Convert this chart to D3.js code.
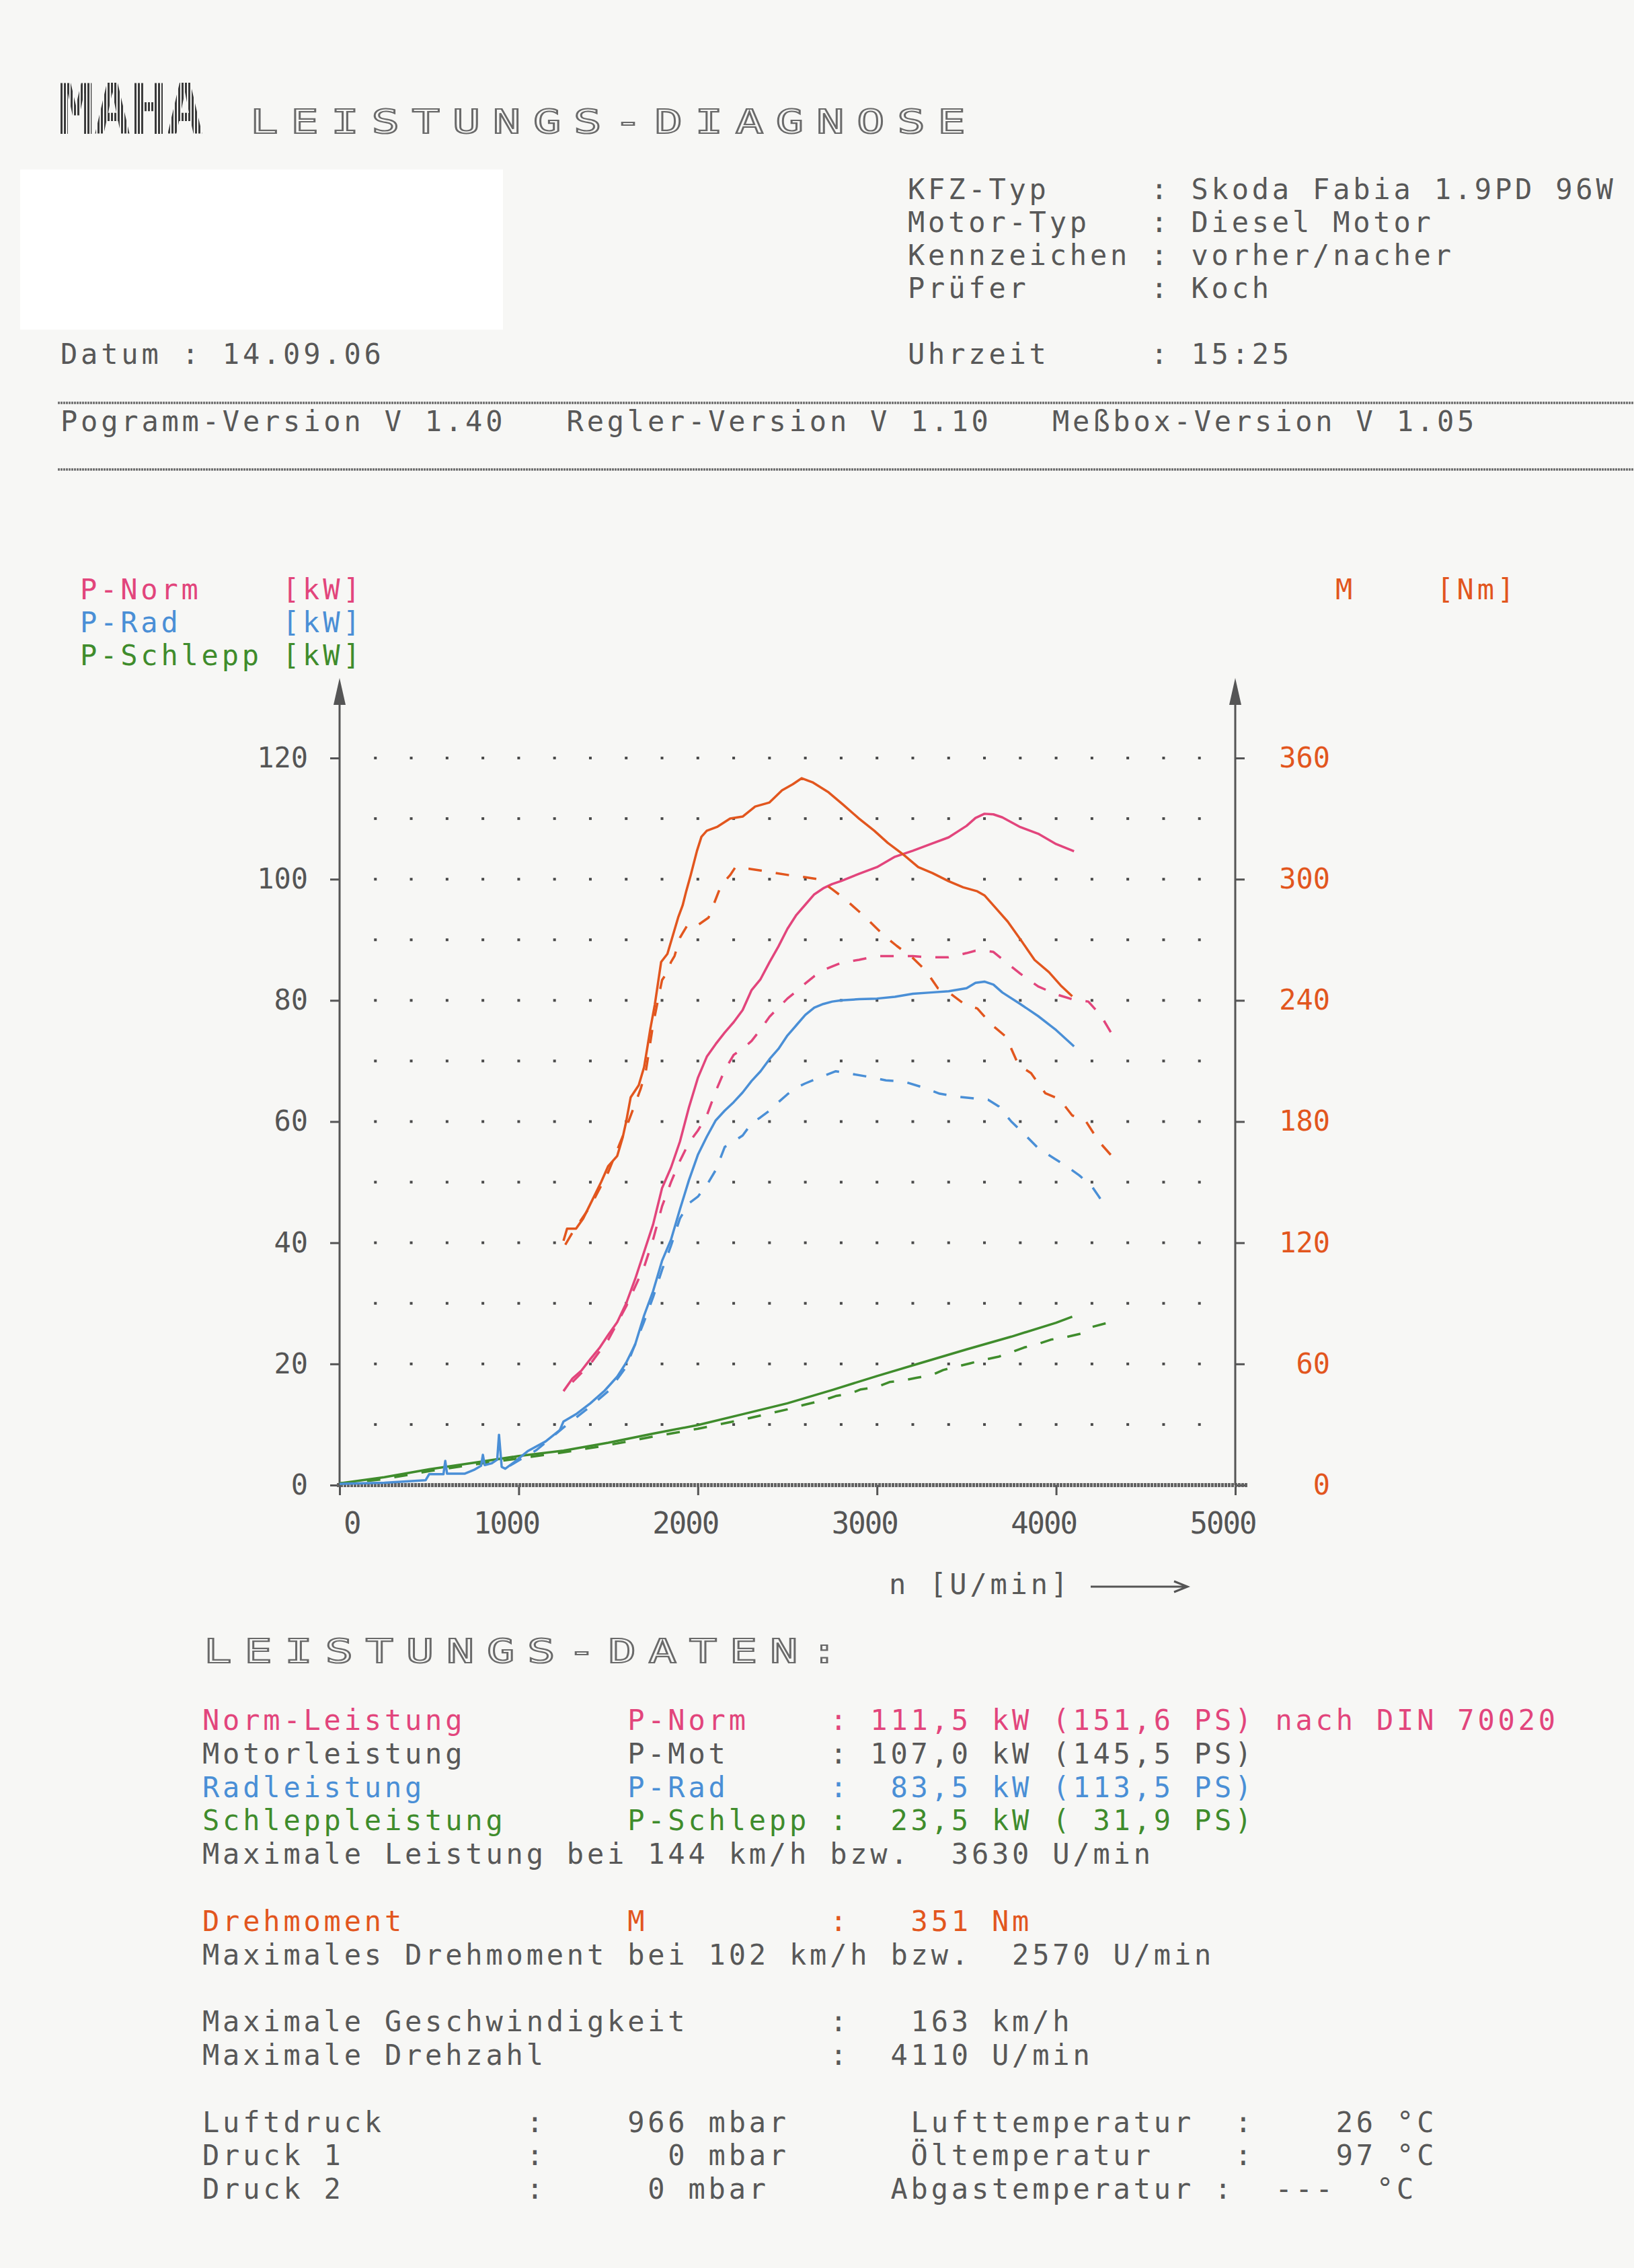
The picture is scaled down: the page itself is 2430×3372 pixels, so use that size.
<html>
<head>
<title>Leistungs-Diagnose</title>
<meta charset="utf-8">
<script src="https://d3js.org/d3.v7.min.js"></script>
<style>
body { margin: 0; background: #f7f7f5; }
svg { display: block; }
text { font-family: "DejaVu Sans Mono", monospace; white-space: pre; }
</style>
</head>
<body>
<script>
// ---- values (rpm / kW, torque in Nm) ----
// solid = nachher, dashed = vorher
var normRpm = [1250,1300,1350,1400,1450,1500,1550,1600,1650,1700,1750,1800,1850,1900,1950,2000,2050,2100,2150,2200,2250,2300,2350,2400,2450,2500,2550,2600,2650,2700,2750,2800,2900,3000,3100,3200,3300,3400,3500,3550,3600,3650,3700,3800,3900,4000,4100];
var normKw  = [15.5,17.6,18.9,20.8,22.6,24.8,26.9,30,34,38.5,43,49,52.4,56.7,62.3,67.2,70.7,72.8,74.7,76.4,78.4,81.7,83.5,86.3,88.9,91.8,94.1,95.8,97.5,98.5,99.2,99.7,100.9,102,103.7,104.7,105.8,106.9,108.8,110.1,110.8,110.7,110.2,108.6,107.5,105.8,104.6];

var normOldRpm = [1300,1400,1500,1600,1700,1750,1800,1850,1900,1950,2000,2050,2100,2150,2200,2250,2300,2350,2400,2450,2500,2550,2600,2650,2700,2750,2800,2900,3000,3100,3200,3300,3400,3500,3550,3600,3650,3700,3800,3900,4000,4100,4180,4250,4320];
var normOldKw  = [17,20,24,29.5,36,40.5,46,50,53.5,56.5,58.5,61,65,68.5,71,72,73.3,75.2,77.3,78.8,80.3,81.5,82.8,84,85,85.6,86.2,86.7,87.3,87.3,87.3,87.1,87.1,87.8,88.2,88.2,88,86.8,84.4,82.3,81,80.1,79.8,77.5,74];

var radRpm = [0,250,480,500,580,590,600,700,750,790,800,810,850,880,890,905,925,980,1050,1150,1230,1250,1320,1400,1480,1550,1600,1650,1700,1750,1800,1850,1900,1950,2000,2050,2100,2150,2200,2250,2300,2350,2400,2450,2500,2550,2600,2650,2700,2750,2800,2900,3000,3100,3200,3300,3400,3500,3550,3600,3650,3700,3800,3900,4000,4100];
var radKw  = [0.2,0.4,0.8,1.8,1.8,4,1.9,1.9,2.5,3.2,5,3.3,3.6,4.2,8.3,3,2.7,3.9,5.6,7.2,9.1,10.5,11.7,13.5,15.6,17.9,20.2,23.2,28,32,37,40.5,45.5,50.3,54.5,57.5,60.2,61.8,63.2,64.8,66.7,68.3,70.3,72,74.2,75.9,77.6,78.8,79.4,79.8,80,80.2,80.3,80.6,81.1,81.3,81.5,82,82.9,83.1,82.6,81.3,79.4,77.4,75.1,72.4];

var radOldRpm = [950,1100,1250,1400,1500,1600,1700,1750,1800,1850,1900,1950,2000,2050,2100,2150,2200,2250,2300,2350,2400,2450,2500,2550,2600,2700,2770,2850,2950,3050,3150,3250,3350,3450,3550,3620,3680,3750,3830,3900,3990,4050,4130,4200,4290];
var radOldKw  = [3.2,5.8,9.5,13,15.5,19.5,27,31,35.5,39.5,44,46.5,47.6,49.5,52,55.8,56.7,57.7,59.7,60.7,61.8,63.2,64.5,65.6,66.3,67.5,68.3,67.9,67.4,66.8,66.6,65.7,64.6,64.1,63.8,63.6,62.5,60,57.7,55.6,53.9,52.8,51.1,49.3,45.4];

var schleppRpm = [0,250,500,750,1000,1250,1500,1750,2000,2250,2500,2750,3000,3250,3500,3750,4000,4090];
var schleppKw  = [0.3,1.3,2.6,3.7,4.8,5.7,7,8.5,9.9,11.7,13.5,15.7,18,20.2,22.4,24.5,26.8,27.8];

var schleppOldRpm = [0,250,500,750,1000,1250,1500,1750,2000,2250,2500,2600,2700,2770,2850,2910,3000,3070,3150,3220,3300,3370,3450,3520,3600,3680,3740,3820,3900,3970,4050,4140,4200,4290];
var schleppOldKw  = [0.2,1,2.3,3.4,4.4,5.4,6.6,8,9.3,10.8,12.5,13.3,14,14.7,15.1,15.8,16.2,17,17.3,17.7,18.1,19,19.6,20.1,20.7,21.2,21.8,22.7,23.3,24,24.4,25,26.1,26.8];

var mRpm = [1250,1270,1320,1360,1410,1460,1500,1550,1580,1600,1625,1670,1700,1715,1735,1760,1780,1795,1830,1860,1890,1915,1935,1960,1995,2020,2050,2110,2180,2250,2320,2400,2470,2530,2580,2640,2730,2810,2900,2985,3060,3150,3230,3310,3400,3480,3560,3600,3660,3730,3810,3880,3960,4030,4090];
var mNm  = [121,127,127,132,141,150,158,163,172,180,192,198,207,215,226,238,250,259,263,272,281,287,294,302,314,321,324,326,330,331,336,338,344,347,350,348,343,337,330,324,318,312,306,303,299,296,294,292,286,279,269,260,254,247,242];

var mOldRpm = [1260,1300,1400,1500,1600,1680,1710,1750,1800,1830,1850,1870,1900,1940,1980,2060,2130,2180,2210,2300,2370,2440,2510,2600,2670,2750,2810,2900,2960,3040,3110,3200,3270,3340,3400,3490,3560,3640,3720,3790,3860,3940,4020,4090,4160,4240,4310];
var mOldNm  = [119,125,138,155,177,196,205,228,250,254,259,262,271,277,276,281,297,302,306,305,304,303,302,301,300,295,291,284,279,272,267,261,255,246,244,238,236,228,222,208,204,194,191,183,181,170,163];

// axis tick labels
var kwTicks  = [0, 20, 40, 60, 80, 100, 120];
var nmTicks  = [0, 60, 120, 180, 240, 300, 360];
var rpmTicks = [0, 1000, 2000, 3000, 4000, 5000];

// texts of the printout
var headerRight = ["KFZ-Typ     : Skoda Fabia 1.9PD 96W",
                   "Motor-Typ   : Diesel Motor",
                   "Kennzeichen : vorher/nacher",
                   "Prüfer      : Koch"];
var versionLine = "Pogramm-Version V 1.40   Regler-Version V 1.10   Meßbox-Version V 1.05";
var legendLeft  = ["P-Norm    [kW]", "P-Rad     [kW]", "P-Schlepp [kW]"];
var legendRight = "M    [Nm]";
var reportLines = [
  "Norm-Leistung        P-Norm    : 111,5 kW (151,6 PS) nach DIN 70020",
  "Motorleistung        P-Mot     : 107,0 kW (145,5 PS)",
  "Radleistung          P-Rad     :  83,5 kW (113,5 PS)",
  "Schleppleistung      P-Schlepp :  23,5 kW ( 31,9 PS)",
  "Maximale Leistung bei 144 km/h bzw.  3630 U/min",
  "",
  "Drehmoment           M         :   351 Nm",
  "Maximales Drehmoment bei 102 km/h bzw.  2570 U/min",
  "",
  "Maximale Geschwindigkeit       :   163 km/h",
  "Maximale Drehzahl              :  4110 U/min",
  "",
  "Luftdruck       :    966 mbar      Lufttemperatur  :    26 °C",
  "Druck 1         :      0 mbar      Öltemperatur    :    97 °C",
  "Druck 2         :     0 mbar      Abgastemperatur :  ---  °C"];
var reportColor = ["norm","grey","rad","schlepp","grey","","m","grey","","grey","grey","","grey","grey","grey"];

// ---- styles ----
var col = { norm: "#e2457c", rad: "#4a8fd6", schlepp: "#3f8c2c", m: "#e2561e", grey: "#585858" };
var fontSize = 42, advance = 30.1;
var spacing = advance - 0.602 * fontSize;

var svg = d3.select("body").append("svg")
    .attr("width", 2430)
    .attr("height", 3372);

svg.append("rect").attr("width", 2430).attr("height", 3372).attr("fill", "#f7f7f5");

var defs = svg.append("defs");
var pat = defs.append("pattern").attr("id", "stripes")
    .attr("width", 5).attr("height", 5).attr("patternUnits", "userSpaceOnUse");
pat.append("rect").attr("width", 3).attr("height", 5).attr("fill", "#3a3a3a");

function line(x0, y0, s, color) {
  return svg.append("text")
      .attr("x", x0)
      .attr("y", y0)
      .attr("xml:space", "preserve")
      .attr("font-size", fontSize)
      .style("letter-spacing", spacing + "px")
      .attr("fill", color)
      .text(s);
}

// wide hollow heading letters
function heading(x0, y0, s) {
  svg.append("text")
      .attr("transform", "translate(" + x0 + "," + y0 + ") scale(1.5,1.1)")
      .attr("font-size", 46)
      .style("letter-spacing", "12.4px")
      .attr("fill", "none")
      .attr("stroke", "#6a6a6a")
      .attr("stroke-width", 2)
      .text(s);
}

// ---- header ----
svg.append("text")
    .attr("x", 86).attr("y", 199)
    .attr("font-family", "DejaVu Sans Condensed")
    .attr("font-weight", "bold")
    .attr("font-size", 104)
    .attr("textLength", 216)
    .attr("lengthAdjust", "spacingAndGlyphs")
    .attr("fill", "url(#stripes)")
    .text("MAHA");
heading(372, 198, "LEISTUNGS-DIAGNOSE");

svg.append("rect").attr("x", 30).attr("y", 252).attr("width", 718).attr("height", 238).attr("fill", "#ffffff");

headerRight.forEach(function(s, i) {
  line(1350, 296 + i * 49, s, col.grey);
});
line(90, 541, "Datum : 14.09.06", col.grey);
line(1350, 541, "Uhrzeit     : 15:25", col.grey);

svg.append("line").attr("x1", 86).attr("x2", 2430).attr("y1", 599).attr("y2", 599)
    .attr("stroke", "#6e6e6e").attr("stroke-width", 3.5).attr("stroke-dasharray", "3,1");
line(90, 641, versionLine, col.grey);
svg.append("line").attr("x1", 86).attr("x2", 2430).attr("y1", 698).attr("y2", 698)
    .attr("stroke", "#6e6e6e").attr("stroke-width", 3.5).attr("stroke-dasharray", "3,1");

// ---- legend ----
var legendCol = [col.norm, col.rad, col.schlepp];
legendLeft.forEach(function(s, i) {
  line(119, 891 + i * 49, s, legendCol[i]);
});
line(1986, 891, legendRight, col.m);

// ---- scales ----
var x = d3.scaleLinear().domain([0, 5000]).range([505, 1837]);
var y = d3.scaleLinear().domain([0, 120]).range([2208, 1127]);
var yM = d3.scaleLinear().domain([0, 360]).range([2208, 1127]);

// dotted grid
var grid = svg.append("g");
d3.range(200, 4801, 200).forEach(function(r) {
  d3.range(10, 121, 10).forEach(function(k) {
    grid.append("rect")
        .attr("x", x(r) - 2).attr("y", y(k) - 2)
        .attr("width", 4).attr("height", 4)
        .attr("fill", "#4a4a4a");
  });
});

// left axis
var gl = svg.append("g")
    .attr("transform", "translate(" + x(0) + ",0)")
    .call(d3.axisLeft(y).tickValues(kwTicks).tickSize(14).tickPadding(33).tickSizeOuter(0));
gl.select(".domain").remove();
gl.selectAll(".tick line").attr("stroke", "#555").attr("stroke-width", 3);
gl.selectAll(".tick text").attr("font-size", fontSize).attr("font-family", "DejaVu Sans Mono").attr("fill", "#555");

// right axis (torque)
var gr = svg.append("g")
    .attr("transform", "translate(" + x(5000) + ",0)")
    .call(d3.axisRight(yM).tickValues(nmTicks).tickSize(14).tickSizeOuter(0));
gr.select(".domain").remove();
gr.selectAll(".tick line").attr("stroke", "#555").attr("stroke-width", 3);
gr.selectAll(".tick text").attr("font-size", fontSize).attr("font-family", "DejaVu Sans Mono")
    .attr("fill", col.m).attr("text-anchor", "end").attr("x", 141);

// bottom axis
var gb = svg.append("g")
    .attr("transform", "translate(0," + y(0) + ")")
    .call(d3.axisBottom(x).tickValues(rpmTicks).tickFormat(d3.format("d"))
      .tickSize(15).tickPadding(26).tickSizeOuter(0));
gb.select(".domain").remove();
gb.selectAll(".tick line").attr("stroke", "#555").attr("stroke-width", 3);
gb.selectAll(".tick text").attr("font-size", 44).attr("font-family", "DejaVu Sans Mono")
    .style("letter-spacing", "-2px")
    .attr("fill", "#555").attr("text-anchor", "end").attr("x", 30);

// axis lines with arrow heads
svg.append("line").attr("x1", x(0) - 4).attr("x2", 1856).attr("y1", y(0)).attr("y2", y(0))
    .attr("stroke", "#626262").attr("stroke-width", 6).attr("stroke-dasharray", "4,1");
[x(0), x(5000)].forEach(function(ax) {
  svg.append("line").attr("x1", ax).attr("x2", ax).attr("y1", y(0)).attr("y2", 1040)
      .attr("stroke", "#555").attr("stroke-width", 3);
  svg.append("path")
      .attr("d", "M" + ax + ",1008 L" + (ax - 9) + ",1048 L" + (ax + 9) + ",1048 Z")
      .attr("fill", "#555");
});

line(1322, 2370, "n [U/min]", col.grey);
svg.append("path").attr("d", "M1622,2359 L1764,2359 M1746,2351 L1766,2359 L1746,2367")
    .attr("fill", "none").attr("stroke", "#555").attr("stroke-width", 3);

// ---- curves ----
function zip(a, b) { return a.map(function(d, i) { return [d, b[i]]; }); }

var kwLine = d3.line().x(function(d) { return x(d[0]); }).y(function(d) { return y(d[1]); });
var nmLine = d3.line().x(function(d) { return x(d[0]); }).y(function(d) { return yM(d[1]); });

var curves = [
  { data: zip(schleppOldRpm, schleppOldKw), gen: kwLine, color: col.schlepp, dash: true },
  { data: zip(schleppRpm, schleppKw),       gen: kwLine, color: col.schlepp, dash: false },
  { data: zip(radOldRpm, radOldKw),         gen: kwLine, color: col.rad,     dash: true },
  { data: zip(radRpm, radKw),               gen: kwLine, color: col.rad,     dash: false },
  { data: zip(normOldRpm, normOldKw),       gen: kwLine, color: col.norm,    dash: true },
  { data: zip(normRpm, normKw),             gen: kwLine, color: col.norm,    dash: false },
  { data: zip(mOldRpm, mOldNm),             gen: nmLine, color: col.m,       dash: true },
  { data: zip(mRpm, mNm),                   gen: nmLine, color: col.m,       dash: false }
];

svg.append("g").selectAll("path")
    .data(curves)
  .enter().append("path")
    .attr("d", function(d) { return d.gen(d.data); })
    .attr("fill", "none")
    .attr("stroke", function(d) { return d.color; })
    .attr("stroke-width", 3.5)
    .attr("stroke-linejoin", "round")
    .attr("stroke-dasharray", function(d) { return d.dash ? "20,21" : null; });

// ---- report block ----
heading(303, 2472, "LEISTUNGS-DATEN:");
reportLines.forEach(function(s, i) {
  if (s === "") return;
  line(301, 2572 + i * 49.8, s, col[reportColor[i]]);
});
</script>
</body>
</html>
